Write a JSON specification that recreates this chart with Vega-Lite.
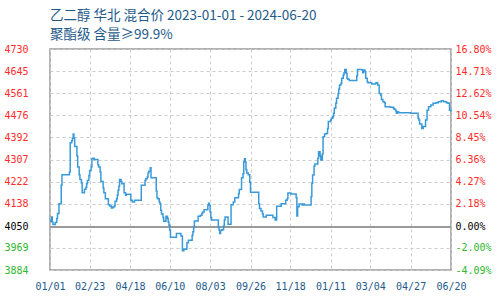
{
  "$schema": "https://vega.github.io/schema/vega-lite/v6.json",
  "width": 401,
  "height": 221,
  "autosize": "none",
  "padding": {"left": 50, "top": 49, "right": 49, "bottom": 30},
  "background": "white",
  "config": {
    "view": {"stroke": "#999999", "strokeWidth": 1.5},
    "axis": {"labelFont": "DejaVu Sans Mono", "labelFontSize": 10, "ticks": false, "tickSize": 0, "domain": false, "title": null}
  },
  "title": {
    "text": ["乙二醇 华北 混合价 2023-01-01 - 2024-06-20", "聚酯级 含量≥99.9%"],
    "anchor": "start",
    "frame": "group",
    "font": "Noto Sans CJK SC",
    "fontSize": 13.5,
    "fontWeight": "normal",
    "color": "#1e5a8a",
    "lineHeight": 19,
    "offset": 3
  },
  "data": {
    "values": [
      {"date": "2023-01-01", "price": 4075}, {"date": "2023-01-02", "price": 4071}, {"date": "2023-01-03", "price": 4087},
      {"date": "2023-01-04", "price": 4068}, {"date": "2023-01-05", "price": 4058}, {"date": "2023-01-08", "price": 4066},
      {"date": "2023-01-10", "price": 4081}, {"date": "2023-01-11", "price": 4100}, {"date": "2023-01-13", "price": 4138},
      {"date": "2023-01-16", "price": 4208}, {"date": "2023-01-17", "price": 4249}, {"date": "2023-01-27", "price": 4259},
      {"date": "2023-01-28", "price": 4371}, {"date": "2023-01-30", "price": 4379}, {"date": "2023-01-31", "price": 4388},
      {"date": "2023-02-01", "price": 4405}, {"date": "2023-02-02", "price": 4388}, {"date": "2023-02-03", "price": 4357},
      {"date": "2023-02-06", "price": 4320}, {"date": "2023-02-07", "price": 4278}, {"date": "2023-02-09", "price": 4249},
      {"date": "2023-02-10", "price": 4230}, {"date": "2023-02-12", "price": 4217}, {"date": "2023-02-13", "price": 4180},
      {"date": "2023-02-16", "price": 4193}, {"date": "2023-02-18", "price": 4201}, {"date": "2023-02-19", "price": 4214},
      {"date": "2023-02-20", "price": 4227}, {"date": "2023-02-22", "price": 4246}, {"date": "2023-02-23", "price": 4265},
      {"date": "2023-02-25", "price": 4278}, {"date": "2023-02-26", "price": 4310}, {"date": "2023-02-27", "price": 4312},
      {"date": "2023-03-01", "price": 4307}, {"date": "2023-03-06", "price": 4287}, {"date": "2023-03-07", "price": 4278},
      {"date": "2023-03-09", "price": 4259}, {"date": "2023-03-10", "price": 4223}, {"date": "2023-03-13", "price": 4198},
      {"date": "2023-03-14", "price": 4180}, {"date": "2023-03-16", "price": 4157}, {"date": "2023-03-20", "price": 4134},
      {"date": "2023-03-22", "price": 4129}, {"date": "2023-03-24", "price": 4121}, {"date": "2023-03-26", "price": 4125},
      {"date": "2023-03-28", "price": 4129}, {"date": "2023-03-29", "price": 4147}, {"date": "2023-03-31", "price": 4157},
      {"date": "2023-04-01", "price": 4170}, {"date": "2023-04-02", "price": 4189}, {"date": "2023-04-03", "price": 4205},
      {"date": "2023-04-04", "price": 4230}, {"date": "2023-04-06", "price": 4223}, {"date": "2023-04-07", "price": 4214},
      {"date": "2023-04-10", "price": 4180}, {"date": "2023-04-12", "price": 4170}, {"date": "2023-04-13", "price": 4174},
      {"date": "2023-04-19", "price": 4151}, {"date": "2023-04-21", "price": 4144}, {"date": "2023-04-24", "price": 4151},
      {"date": "2023-05-03", "price": 4208}, {"date": "2023-05-08", "price": 4227}, {"date": "2023-05-09", "price": 4233},
      {"date": "2023-05-11", "price": 4240}, {"date": "2023-05-12", "price": 4255}, {"date": "2023-05-13", "price": 4262},
      {"date": "2023-05-15", "price": 4275}, {"date": "2023-05-16", "price": 4237}, {"date": "2023-05-23", "price": 4186},
      {"date": "2023-05-24", "price": 4161}, {"date": "2023-05-25", "price": 4157}, {"date": "2023-05-27", "price": 4144},
      {"date": "2023-05-28", "price": 4138}, {"date": "2023-05-29", "price": 4113}, {"date": "2023-05-30", "price": 4098},
      {"date": "2023-06-01", "price": 4085}, {"date": "2023-06-02", "price": 4071}, {"date": "2023-06-05", "price": 4090},
      {"date": "2023-06-07", "price": 4081}, {"date": "2023-06-08", "price": 4068}, {"date": "2023-06-09", "price": 4055},
      {"date": "2023-06-10", "price": 4036}, {"date": "2023-06-11", "price": 4009}, {"date": "2023-06-19", "price": 4024},
      {"date": "2023-06-25", "price": 4014}, {"date": "2023-06-27", "price": 3958}, {"date": "2023-06-29", "price": 3963},
      {"date": "2023-07-02", "price": 3965}, {"date": "2023-07-03", "price": 3988}, {"date": "2023-07-05", "price": 3998},
      {"date": "2023-07-10", "price": 4017}, {"date": "2023-07-11", "price": 4030}, {"date": "2023-07-12", "price": 4047},
      {"date": "2023-07-13", "price": 4072}, {"date": "2023-07-18", "price": 4090}, {"date": "2023-07-21", "price": 4094},
      {"date": "2023-07-23", "price": 4100}, {"date": "2023-07-24", "price": 4106}, {"date": "2023-07-26", "price": 4115},
      {"date": "2023-07-31", "price": 4132}, {"date": "2023-08-01", "price": 4140}, {"date": "2023-08-02", "price": 4132},
      {"date": "2023-08-03", "price": 4106}, {"date": "2023-08-04", "price": 4085}, {"date": "2023-08-05", "price": 4075},
      {"date": "2023-08-14", "price": 4047}, {"date": "2023-08-15", "price": 4036}, {"date": "2023-08-16", "price": 4024},
      {"date": "2023-08-17", "price": 4036}, {"date": "2023-08-19", "price": 4038}, {"date": "2023-08-21", "price": 4052},
      {"date": "2023-08-22", "price": 4075}, {"date": "2023-08-23", "price": 4087}, {"date": "2023-08-27", "price": 4059},
      {"date": "2023-08-31", "price": 4134}, {"date": "2023-09-03", "price": 4144}, {"date": "2023-09-05", "price": 4161},
      {"date": "2023-09-10", "price": 4176}, {"date": "2023-09-11", "price": 4192}, {"date": "2023-09-14", "price": 4237},
      {"date": "2023-09-16", "price": 4252}, {"date": "2023-09-17", "price": 4297}, {"date": "2023-09-18", "price": 4310},
      {"date": "2023-09-19", "price": 4297}, {"date": "2023-09-20", "price": 4268}, {"date": "2023-09-21", "price": 4255},
      {"date": "2023-09-23", "price": 4249}, {"date": "2023-09-25", "price": 4220}, {"date": "2023-09-26", "price": 4182},
      {"date": "2023-10-07", "price": 4138}, {"date": "2023-10-08", "price": 4119}, {"date": "2023-10-10", "price": 4110},
      {"date": "2023-10-12", "price": 4098}, {"date": "2023-10-13", "price": 4087}, {"date": "2023-10-17", "price": 4094},
      {"date": "2023-10-26", "price": 4085}, {"date": "2023-10-29", "price": 4075}, {"date": "2023-10-31", "price": 4128},
      {"date": "2023-11-06", "price": 4138}, {"date": "2023-11-12", "price": 4151}, {"date": "2023-11-14", "price": 4157},
      {"date": "2023-11-15", "price": 4179}, {"date": "2023-11-19", "price": 4175}, {"date": "2023-11-26", "price": 4162},
      {"date": "2023-11-27", "price": 4091}, {"date": "2023-11-28", "price": 4126}, {"date": "2023-11-30", "price": 4137},
      {"date": "2023-12-04", "price": 4133}, {"date": "2023-12-06", "price": 4137}, {"date": "2023-12-07", "price": 4133},
      {"date": "2023-12-16", "price": 4165}, {"date": "2023-12-17", "price": 4216}, {"date": "2023-12-18", "price": 4248},
      {"date": "2023-12-20", "price": 4282}, {"date": "2023-12-21", "price": 4290}, {"date": "2023-12-25", "price": 4312},
      {"date": "2023-12-26", "price": 4337}, {"date": "2023-12-28", "price": 4320}, {"date": "2023-12-29", "price": 4305},
      {"date": "2023-12-31", "price": 4328}, {"date": "2024-01-01", "price": 4394}, {"date": "2024-01-03", "price": 4405},
      {"date": "2024-01-05", "price": 4407}, {"date": "2024-01-07", "price": 4426}, {"date": "2024-01-08", "price": 4452},
      {"date": "2024-01-11", "price": 4458}, {"date": "2024-01-12", "price": 4465}, {"date": "2024-01-14", "price": 4471},
      {"date": "2024-01-15", "price": 4484}, {"date": "2024-01-16", "price": 4503}, {"date": "2024-01-18", "price": 4522},
      {"date": "2024-01-19", "price": 4541}, {"date": "2024-01-21", "price": 4560}, {"date": "2024-01-22", "price": 4576},
      {"date": "2024-01-23", "price": 4592}, {"date": "2024-01-25", "price": 4599}, {"date": "2024-01-26", "price": 4618},
      {"date": "2024-01-28", "price": 4630}, {"date": "2024-01-29", "price": 4639}, {"date": "2024-01-30", "price": 4652},
      {"date": "2024-02-01", "price": 4637}, {"date": "2024-02-02", "price": 4618}, {"date": "2024-02-03", "price": 4614},
      {"date": "2024-02-05", "price": 4609}, {"date": "2024-02-15", "price": 4627}, {"date": "2024-02-16", "price": 4652},
      {"date": "2024-02-22", "price": 4650}, {"date": "2024-02-23", "price": 4639}, {"date": "2024-02-24", "price": 4650},
      {"date": "2024-02-26", "price": 4643}, {"date": "2024-02-27", "price": 4618}, {"date": "2024-02-29", "price": 4605},
      {"date": "2024-03-01", "price": 4601}, {"date": "2024-03-06", "price": 4596}, {"date": "2024-03-11", "price": 4599},
      {"date": "2024-03-12", "price": 4601}, {"date": "2024-03-14", "price": 4592}, {"date": "2024-03-16", "price": 4560},
      {"date": "2024-03-18", "price": 4554}, {"date": "2024-03-19", "price": 4537}, {"date": "2024-03-21", "price": 4528},
      {"date": "2024-03-23", "price": 4524}, {"date": "2024-03-24", "price": 4509}, {"date": "2024-03-31", "price": 4507},
      {"date": "2024-04-04", "price": 4503}, {"date": "2024-04-05", "price": 4499}, {"date": "2024-04-07", "price": 4494},
      {"date": "2024-04-08", "price": 4484}, {"date": "2024-04-09", "price": 4490}, {"date": "2024-04-11", "price": 4486},
      {"date": "2024-04-27", "price": 4484}, {"date": "2024-05-07", "price": 4465}, {"date": "2024-05-08", "price": 4458},
      {"date": "2024-05-09", "price": 4443}, {"date": "2024-05-12", "price": 4426}, {"date": "2024-05-14", "price": 4433},
      {"date": "2024-05-17", "price": 4458}, {"date": "2024-05-19", "price": 4496}, {"date": "2024-05-21", "price": 4509},
      {"date": "2024-05-24", "price": 4516}, {"date": "2024-05-27", "price": 4522}, {"date": "2024-05-31", "price": 4524},
      {"date": "2024-06-03", "price": 4528}, {"date": "2024-06-07", "price": 4532}, {"date": "2024-06-10", "price": 4528},
      {"date": "2024-06-14", "price": 4524}, {"date": "2024-06-16", "price": 4522}, {"date": "2024-06-18", "price": 4496},
      {"date": "2024-06-20", "price": 4490}
    ]
  },
  "layer": [
    {
      "mark": {"type": "rule", "color": "#999999", "strokeWidth": 1.5},
      "encoding": {
        "y": {
          "datum": 4050,
          "type": "quantitative",
          "scale": {"domain": [3884, 4730], "nice": false, "zero": false},
          "axis": {
            "orient": "right",
            "grid": false,
            "values": [3884, 3969, 4050, 4138, 4222, 4307, 4392, 4476, 4561, 4645, 4730],
            "labelExpr": "['-4.09%','-2.00%','0.00%','2.18%','4.27%','6.36%','8.45%','10.54%','12.62%','14.71%','16.80%'][indexof([3884,3969,4050,4138,4222,4307,4392,4476,4561,4645,4730], datum.value)]",
            "labelColor": {"expr": "datum.value > 4050 ? '#ff2a2a' : (datum.value < 4050 ? '#2db82d' : '#000000')"},
            "labelPadding": 4,
            "labelAlign": "left",
            "labelOverlap": false
          }
        }
      }
    },
    {
      "mark": {"type": "line", "interpolate": "step-after", "color": "#3a9ad9", "strokeWidth": 1.5},
      "encoding": {
        "x": {
          "field": "date",
          "type": "temporal",
          "scale": {
            "type": "utc",
            "domain": [{"year": 2023, "month": 1, "date": 1, "utc": true}, {"year": 2024, "month": 6, "date": 20, "utc": true}]
          },
          "axis": {
            "format": "%m/%d",
            "values": [
              {"year": 2023, "month": 1, "date": 1, "utc": true},
              {"year": 2023, "month": 2, "date": 23, "utc": true},
              {"year": 2023, "month": 4, "date": 18, "utc": true},
              {"year": 2023, "month": 6, "date": 10, "utc": true},
              {"year": 2023, "month": 8, "date": 3, "utc": true},
              {"year": 2023, "month": 9, "date": 26, "utc": true},
              {"year": 2023, "month": 11, "date": 18, "utc": true},
              {"year": 2024, "month": 1, "date": 11, "utc": true},
              {"year": 2024, "month": 3, "date": 4, "utc": true},
              {"year": 2024, "month": 4, "date": 27, "utc": true},
              {"year": 2024, "month": 6, "date": 20, "utc": true}
            ],
            "grid": true,
            "gridDash": [3, 3],
            "gridColor": "#cccccc",
            "labelColor": "#1e5a8a",
            "labelPadding": 11,
            "labelOverlap": false,
            "labelFlush": false
          }
        },
        "y": {
          "field": "price",
          "type": "quantitative",
          "scale": {"domain": [3884, 4730], "nice": false, "zero": false},
          "axis": {
            "orient": "left",
            "values": [3884, 3969, 4050, 4138, 4222, 4307, 4392, 4476, 4561, 4645, 4730],
            "format": "d",
            "grid": true,
            "gridDash": [3, 3],
            "gridColor": "#cccccc",
            "labelColor": {"expr": "datum.value > 4050 ? '#ff2a2a' : (datum.value < 4050 ? '#2db82d' : '#000000')"},
            "labelPadding": 22,
            "labelOverlap": false
          }
        }
      }
    }
  ],
  "resolve": {"axis": {"y": "independent"}}
}
